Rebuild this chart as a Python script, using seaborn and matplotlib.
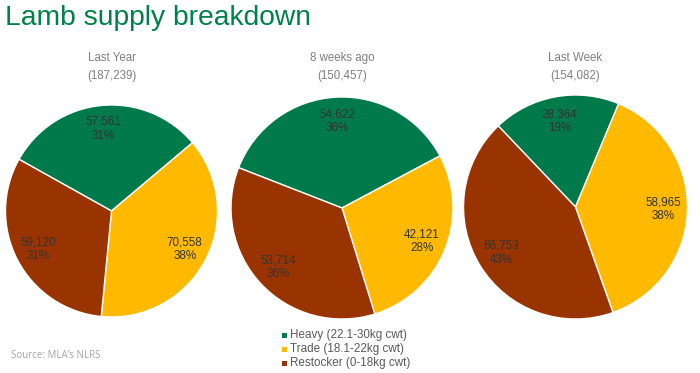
import matplotlib
matplotlib.use("Agg")
import matplotlib.pyplot as plt
from matplotlib.patches import Rectangle
import seaborn as sns

# -----------------------------
# Data
# -----------------------------
periods = ["Last Year", "8 weeks ago", "Last Week"]
totals = [187239, 150457, 154082]
categories = ["Heavy (22.1-30kg cwt)", "Trade (18.1-22kg cwt)", "Restocker (0-18kg cwt)"]
heavy = [57561, 54622, 28364]
trade = [70558, 42121, 58965]
restocker = [59120, 53714, 66753]
heavy_pct = [31, 36, 19]
trade_pct = [38, 28, 38]
restocker_pct = [31, 36, 43]

sns.set_style("white")
plt.rcParams["font.family"] = ["Liberation Sans", "DejaVu Sans"]

colors = ["#007A4B", "#FFB900", "#993300"]

W, H = 700, 373
fig = plt.figure(figsize=(7, 3.73), dpi=100)

# pie placement in pixels: centre x, centre y (from top), radius, start angle
layout = [
    (111.5, 211, 106, 150.8),
    (342, 208, 111, 158.7),
    (575.5, 207, 112, 133.6),
]

for i, (cx, cy, r, start) in enumerate(layout):
    ax = fig.add_axes([(cx - r) / W, (H - cy - r) / H, 2 * r / W, 2 * r / H])
    vals = [heavy[i], trade[i], restocker[i]]
    pcts = [heavy_pct[i], trade_pct[i], restocker_pct[i]]
    labels = [f"{v:,}\n{p}%" for v, p in zip(vals, pcts)]
    wedges, texts = ax.pie(
        vals,
        colors=colors,
        startangle=start,
        counterclock=False,
        labels=labels,
        labeldistance=0.78,
        wedgeprops=dict(edgecolor="white", linewidth=1.0),
        textprops=dict(color="#333333", fontsize=8.4, ha="center", va="center",
                       linespacing=1.2),
    )
    ax.set_xlim(-1, 1)
    ax.set_ylim(-1, 1)
    ax.set_aspect("equal")

    fig.text(cx / W, 1 - 58 / H, periods[i], ha="center", va="center",
             fontsize=8.3, color="#7F7F7F")
    fig.text(cx / W, 1 - 76 / H, f"({totals[i]:,})", ha="center", va="center",
             fontsize=8.3, color="#7F7F7F")

# Title
fig.text(5 / W, 1 - 25 / H, "Lamb supply breakdown", ha="left", va="baseline",
         fontsize=20.3, color="#00814A")

# Legend
for j, (lab, col) in enumerate(zip(categories, colors)):
    yc = 335 + 14 * j
    fig.patches.append(Rectangle((282 / W, 1 - (yc + 2.5) / H), 5 / W, 5 / H,
                                 transform=fig.transFigure, facecolor=col,
                                 edgecolor="none"))
    fig.text(290 / W, 1 - yc / H, lab, ha="left", va="center", fontsize=8.4,
             color="#595959")

# Source
fig.text(11 / W, 1 - 356 / H, "Source: MLA\u2019s NLRS", ha="left", va="center",
         fontsize=7, color="#A6A6A6", family=["Open Sans", "DejaVu Sans"])

plt.savefig("out.png", dpi=100)
